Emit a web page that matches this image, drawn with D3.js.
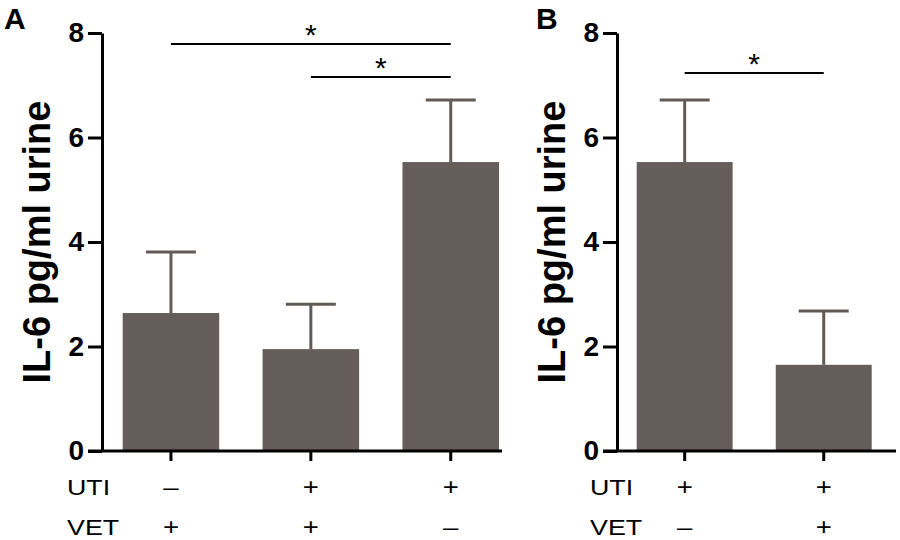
<!DOCTYPE html>
<html>
<head>
<meta charset="utf-8">
<script src="https://cdn.jsdelivr.net/npm/d3@7"></script>
<style>
  body { margin: 0; background: #fff; }
  text { font-family: "Liberation Sans", Arial, sans-serif; }
</style>
</head>
<body>
<div id="graf"></div>
<script>
// datos panel A
const gruposA = ['a1', 'a2', 'a3']
const mediasA = [2.64, 1.95, 5.53]
const erroresA = [3.81, 2.81, 6.72]
const utiA = ['–', '+', '+']
const vetA = ['+', '+', '–']

// datos panel B
const gruposB = ['b1', 'b2']
const mediasB = [5.53, 1.65]
const erroresB = [6.72, 2.68]
const utiB = ['+', '+']
const vetB = ['–', '+']

const yTicks = [0, 2, 4, 6, 8]
const colorBarra = '#655d59'
const colorError = '#615b57'

const svg = d3.select('#graf').append('svg')
  .attr('width', 900)
  .attr('height', 540)

// escala y compartida
const y = d3.scaleLinear().domain([0, 8]).range([451, 33])

function panel(cfg) {
  const g = svg.append('g')
  const x = d3.scaleBand()
    .domain(cfg.grupos)
    .range(cfg.rango)
    .paddingInner(0.31)
    .paddingOuter(0)

  // barras
  g.selectAll('rect.barra')
    .data(cfg.grupos)
    .join('rect')
    .attr('class', 'barra')
    .attr('x', d => x(d))
    .attr('width', x.bandwidth())
    .attr('y', (d, i) => y(cfg.medias[i]))
    .attr('height', (d, i) => y(0) - y(cfg.medias[i]))
    .attr('fill', colorBarra)

  // barras de error (solo hacia arriba)
  const eb = g.selectAll('g.err').data(cfg.grupos).join('g').attr('class', 'err')
  eb.append('line')
    .attr('x1', d => x(d) + x.bandwidth() / 2)
    .attr('x2', d => x(d) + x.bandwidth() / 2)
    .attr('y1', (d, i) => y(cfg.medias[i]))
    .attr('y2', (d, i) => y(cfg.errores[i]))
    .attr('stroke', colorError).attr('stroke-width', 3)
  eb.append('line')
    .attr('x1', d => x(d) + x.bandwidth() / 2 - 25)
    .attr('x2', d => x(d) + x.bandwidth() / 2 + 25)
    .attr('y1', (d, i) => y(cfg.errores[i]))
    .attr('y2', (d, i) => y(cfg.errores[i]))
    .attr('stroke', colorError).attr('stroke-width', 3)

  // eje y
  const yAxis = g.append('g')
    .attr('transform', `translate(${cfg.ejeX}, 0)`)
    .call(d3.axisLeft(y).tickValues(yTicks).tickSize(14).tickSizeOuter(0).tickPadding(4))
  yAxis.select('.domain').attr('stroke-width', 3)
  yAxis.selectAll('.tick line').attr('stroke-width', 3)
  yAxis.selectAll('.tick text')
    .style('font-size', '28px').style('font-weight', 'bold')
    .attr('fill', '#000')

  // eje x
  const xAxis = g.append('g')
    .attr('transform', `translate(0, ${y(0)})`)
    .call(d3.axisBottom(x).tickSize(10).tickFormat(''))
  xAxis.select('.domain').remove()
  xAxis.selectAll('.tick line').attr('stroke-width', 3)
  g.append('line')
    .attr('x1', cfg.ejeX - 14).attr('x2', cfg.finX)
    .attr('y1', y(0)).attr('y2', y(0))
    .attr('stroke', '#000').attr('stroke-width', 3)

  // filas UTI / VET (texto algo ensanchado como en la figura)
  const filas = [['UTI', cfg.uti, 495], ['VET', cfg.vet, 535]]
  filas.forEach(([nombre, vals, yy]) => {
    g.append('text')
      .attr('transform', `translate(${cfg.etiqX}, ${yy}) scale(1.22, 1)`)
      .style('font-size', '22px')
      .text(nombre)
    g.selectAll(null).data(cfg.grupos).join('text')
      .attr('transform', d => `translate(${x(d) + x.bandwidth() / 2}, ${yy}) scale(1.2, 1)`)
      .attr('text-anchor', 'middle')
      .style('font-size', '23px')
      .text((d, i) => vals[i])
  })

  // titulo y
  g.append('text')
    .attr('transform', `translate(${cfg.tituloX}, ${y(4)}) rotate(-90)`)
    .attr('text-anchor', 'middle')
    .style('font-size', '38px').style('font-weight', 'bold')
    .text('IL-6 pg/ml urine')

  // letra del panel
  g.append('text')
    .attr('x', cfg.letraX).attr('y', 29)
    .style('font-size', '30px').style('font-weight', 'bold')
    .text(cfg.letra)

  // significancia
  cfg.sig.forEach(s => {
    const xa = x(s[0]) + x.bandwidth() / 2
    const xb = x(s[1]) + x.bandwidth() / 2
    g.append('line')
      .attr('x1', xa).attr('x2', xb)
      .attr('y1', s[2]).attr('y2', s[2])
      .attr('stroke', '#000').attr('stroke-width', 2)
    g.append('text')
      .attr('x', (xa + xb) / 2).attr('y', s[2] + 1)
      .attr('text-anchor', 'middle')
      .style('font-size', '30px')
      .text('*')
  })
}

panel({
  grupos: gruposA, medias: mediasA, errores: erroresA,
  uti: utiA, vet: vetA,
  rango: [122.7, 499], ejeX: 102, finX: 502, etiqX: 67, tituloX: 50,
  letra: 'A', letraX: 4,
  sig: [['a1', 'a3', 44], ['a2', 'a3', 77]]
})

panel({
  grupos: gruposB, medias: mediasB, errores: erroresB,
  uti: utiB, vet: vetB,
  rango: [636.7, 871.7], ejeX: 617, finX: 896, etiqX: 590, tituloX: 565,
  letra: 'B', letraX: 536,
  sig: [['b1', 'b2', 73]]
})
</script>
</body>
</html>
